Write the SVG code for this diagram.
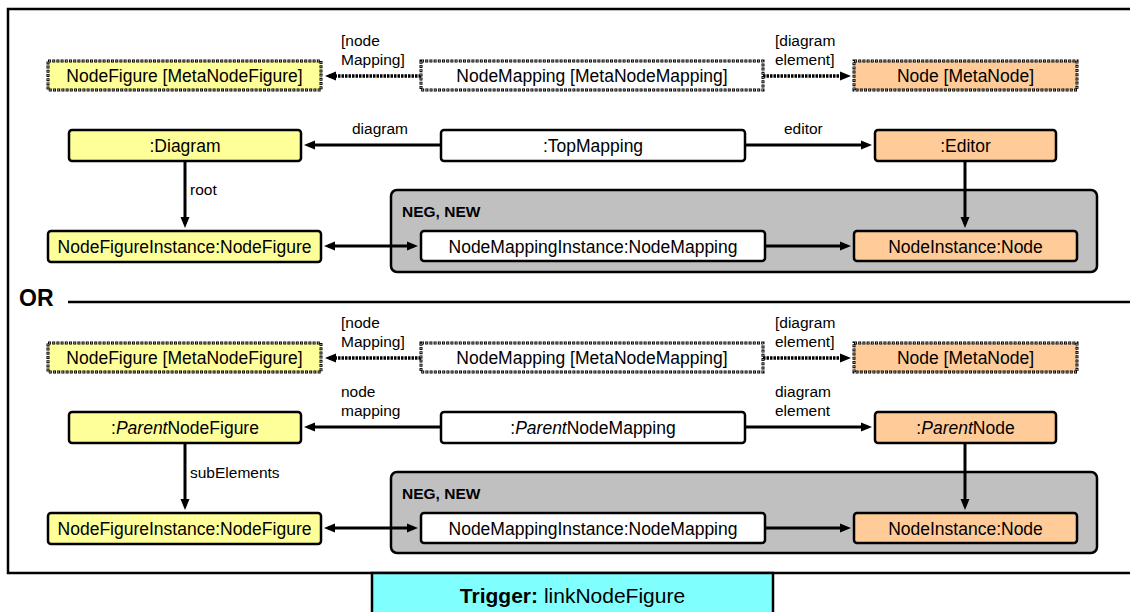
<svg xmlns="http://www.w3.org/2000/svg" width="1130" height="612" viewBox="0 0 1130 612">
  <style>
    text { font-family: "Liberation Sans", Arial, sans-serif; fill: #000; }
    .box { stroke: #000; stroke-width: 2.5; }
    .yellow { fill: #FFFF99; }
    .orange { fill: #FFCC99; }
    .white { fill: #FFFFFF; }
    .meta-outer { fill: none; stroke: #000; stroke-width: 3; stroke-dasharray: 3 1.2; }
    .meta-inner { fill: none; stroke: #fff; stroke-width: 1; stroke-dasharray: 1.2 3; stroke-dashoffset: -1; }
    .neg { fill: #C0C0C0; stroke: #000; stroke-width: 2.5; }
    .lbl { font-size: 17.5px; text-anchor: middle; }
    .edge { font-size: 15.5px; }
    .link { fill: none; stroke: #000; stroke-width: 3; }
    .dotted { fill: none; stroke: #000; stroke-width: 3.5; stroke-dasharray: 2.5 1; }
    .neglbl { font-size: 15.5px; font-weight: bold; }
  </style>
  <defs>
    <marker id="arrow" markerUnits="userSpaceOnUse" markerWidth="12" markerHeight="10" refX="7" refY="5" orient="auto-start-reverse">
      <path d="M0,0.5 L11,5 L0,9.5 z" fill="#000"/>
    </marker>
  </defs>

  <!-- outer rule frame -->
  <rect x="8" y="9" width="1130" height="564" fill="none" stroke="#000" stroke-width="2.5"/>

  <!-- OR separator -->
  <g id="or-separator">
    <text x="19" y="306" font-size="23" font-weight="bold">OR</text>
    <line x1="68" y1="302" x2="1130" y2="302" stroke="#000" stroke-width="2.5"/>
  </g>

  <!-- NEG, NEW containers -->
  <g id="neg1">
    <rect class="neg" x="391" y="190" width="706" height="82" rx="6"/>
    <text class="neglbl" x="402" y="217">NEG, NEW</text>
  </g>
  <g id="neg2">
    <rect class="neg" x="391" y="472" width="706" height="81" rx="6"/>
    <text class="neglbl" x="402" y="499">NEG, NEW</text>
  </g>

  <!-- connectors -->
  <g id="connectors">
    <!-- section 1 -->
    <line class="dotted" x1="421" y1="76" x2="329" y2="76" marker-end="url(#arrow)"/>
    <line class="dotted" x1="763" y1="76" x2="847" y2="76" marker-end="url(#arrow)"/>
    <line class="link" x1="441" y1="145" x2="308" y2="145" marker-end="url(#arrow)"/>
    <line class="link" x1="745" y1="145" x2="868" y2="145" marker-end="url(#arrow)"/>
    <line class="link" x1="185" y1="161" x2="185" y2="224" marker-end="url(#arrow)"/>
    <line class="link" x1="965" y1="161" x2="965" y2="224" marker-end="url(#arrow)"/>
    <line class="link" x1="328" y1="246" x2="414" y2="246" marker-start="url(#arrow)" marker-end="url(#arrow)"/>
    <line class="link" x1="765" y1="246" x2="847" y2="246" marker-end="url(#arrow)"/>
    <!-- section 2 -->
    <line class="dotted" x1="421" y1="358" x2="329" y2="358" marker-end="url(#arrow)"/>
    <line class="dotted" x1="763" y1="358" x2="847" y2="358" marker-end="url(#arrow)"/>
    <line class="link" x1="441" y1="427" x2="308" y2="427" marker-end="url(#arrow)"/>
    <line class="link" x1="745" y1="427" x2="868" y2="427" marker-end="url(#arrow)"/>
    <line class="link" x1="185" y1="443" x2="185" y2="506" marker-end="url(#arrow)"/>
    <line class="link" x1="965" y1="443" x2="965" y2="506" marker-end="url(#arrow)"/>
    <line class="link" x1="328" y1="528" x2="414" y2="528" marker-start="url(#arrow)" marker-end="url(#arrow)"/>
    <line class="link" x1="765" y1="528" x2="847" y2="528" marker-end="url(#arrow)"/>

    <!-- edge labels -->
    <text class="edge" x="341" y="46">[node</text>
    <text class="edge" x="341" y="65">Mapping]</text>
    <text class="edge" x="775" y="46">[diagram</text>
    <text class="edge" x="775" y="65">element]</text>
    <text class="edge" x="352" y="134">diagram</text>
    <text class="edge" x="784" y="134">editor</text>
    <text class="edge" x="190" y="195">root</text>

    <text class="edge" x="341" y="328">[node</text>
    <text class="edge" x="341" y="347">Mapping]</text>
    <text class="edge" x="775" y="328">[diagram</text>
    <text class="edge" x="775" y="347">element]</text>
    <text class="edge" x="341" y="397">node</text>
    <text class="edge" x="341" y="416">mapping</text>
    <text class="edge" x="775" y="397">diagram</text>
    <text class="edge" x="775" y="416">element</text>
    <text class="edge" x="190" y="478">subElements</text>
  </g>

  <!-- section 1 nodes -->
  <g id="meta-nodefigure-1">
    <rect class="yellow" x="48" y="61" width="273" height="29"/>
    <rect class="meta-outer" x="48" y="61" width="273" height="29"/>
    <rect class="meta-inner" x="48" y="61" width="273" height="29"/>
    <text class="lbl" x="184.5" y="81.5">NodeFigure [MetaNodeFigure]</text>
  </g>
  <g id="meta-nodemapping-1">
    <rect class="white" x="421" y="61" width="342" height="29"/>
    <rect class="meta-outer" x="421" y="61" width="342" height="29"/>
    <rect class="meta-inner" x="421" y="61" width="342" height="29"/>
    <text class="lbl" x="592" y="81.5">NodeMapping [MetaNodeMapping]</text>
  </g>
  <g id="meta-node-1">
    <rect class="orange" x="854" y="61" width="223" height="29"/>
    <rect class="meta-outer" x="854" y="61" width="223" height="29"/>
    <rect class="meta-inner" x="854" y="61" width="223" height="29"/>
    <text class="lbl" x="965.5" y="81.5">Node [MetaNode]</text>
  </g>
  <g id="diagram">
    <rect class="box yellow" x="69" y="130" width="232" height="31" rx="3"/>
    <text class="lbl" x="185" y="152">:Diagram</text>
  </g>
  <g id="topmapping">
    <rect class="box white" x="441" y="130" width="304" height="31" rx="3"/>
    <text class="lbl" x="593" y="152">:TopMapping</text>
  </g>
  <g id="editor">
    <rect class="box orange" x="875" y="130" width="181" height="31" rx="3"/>
    <text class="lbl" x="965.5" y="152">:Editor</text>
  </g>
  <g id="nodefigureinstance-1">
    <rect class="box yellow" x="48" y="231" width="273" height="31" rx="3"/>
    <text class="lbl" x="184.5" y="253">NodeFigureInstance:NodeFigure</text>
  </g>
  <g id="nodemappinginstance-1">
    <rect class="box white" x="421" y="231" width="344" height="30" rx="3"/>
    <text class="lbl" x="593" y="252.5">NodeMappingInstance:NodeMapping</text>
  </g>
  <g id="nodeinstance-1">
    <rect class="box orange" x="854" y="231" width="223" height="30" rx="3"/>
    <text class="lbl" x="965.5" y="252.5">NodeInstance:Node</text>
  </g>

  <!-- section 2 nodes -->
  <g id="meta-nodefigure-2">
    <rect class="yellow" x="48" y="343" width="273" height="29"/>
    <rect class="meta-outer" x="48" y="343" width="273" height="29"/>
    <rect class="meta-inner" x="48" y="343" width="273" height="29"/>
    <text class="lbl" x="184.5" y="363.5">NodeFigure [MetaNodeFigure]</text>
  </g>
  <g id="meta-nodemapping-2">
    <rect class="white" x="421" y="343" width="342" height="29"/>
    <rect class="meta-outer" x="421" y="343" width="342" height="29"/>
    <rect class="meta-inner" x="421" y="343" width="342" height="29"/>
    <text class="lbl" x="592" y="363.5">NodeMapping [MetaNodeMapping]</text>
  </g>
  <g id="meta-node-2">
    <rect class="orange" x="854" y="343" width="223" height="29"/>
    <rect class="meta-outer" x="854" y="343" width="223" height="29"/>
    <rect class="meta-inner" x="854" y="343" width="223" height="29"/>
    <text class="lbl" x="965.5" y="363.5">Node [MetaNode]</text>
  </g>
  <g id="parent-nodefigure">
    <rect class="box yellow" x="69" y="412" width="232" height="31" rx="3"/>
    <text class="lbl" x="185" y="434"><tspan>:</tspan><tspan font-style="italic">Parent</tspan><tspan>NodeFigure</tspan></text>
  </g>
  <g id="parent-nodemapping">
    <rect class="box white" x="441" y="412" width="304" height="31" rx="3"/>
    <text class="lbl" x="593" y="434"><tspan>:</tspan><tspan font-style="italic">Parent</tspan><tspan>NodeMapping</tspan></text>
  </g>
  <g id="parent-node">
    <rect class="box orange" x="875" y="412" width="181" height="31" rx="3"/>
    <text class="lbl" x="965.5" y="434"><tspan>:</tspan><tspan font-style="italic">Parent</tspan><tspan>Node</tspan></text>
  </g>
  <g id="nodefigureinstance-2">
    <rect class="box yellow" x="48" y="513" width="273" height="31" rx="3"/>
    <text class="lbl" x="184.5" y="535">NodeFigureInstance:NodeFigure</text>
  </g>
  <g id="nodemappinginstance-2">
    <rect class="box white" x="421" y="513" width="344" height="30" rx="3"/>
    <text class="lbl" x="593" y="534.5">NodeMappingInstance:NodeMapping</text>
  </g>
  <g id="nodeinstance-2">
    <rect class="box orange" x="854" y="513" width="223" height="30" rx="3"/>
    <text class="lbl" x="965.5" y="534.5">NodeInstance:Node</text>
  </g>

  <!-- trigger tab -->
  <g id="trigger">
    <rect x="372" y="573" width="401" height="50" fill="#80FFFF" stroke="#000" stroke-width="2.5"/>
    <text x="572.5" y="603" font-size="21" text-anchor="middle"><tspan font-weight="bold">Trigger:</tspan> linkNodeFigure</text>
  </g>
</svg>
